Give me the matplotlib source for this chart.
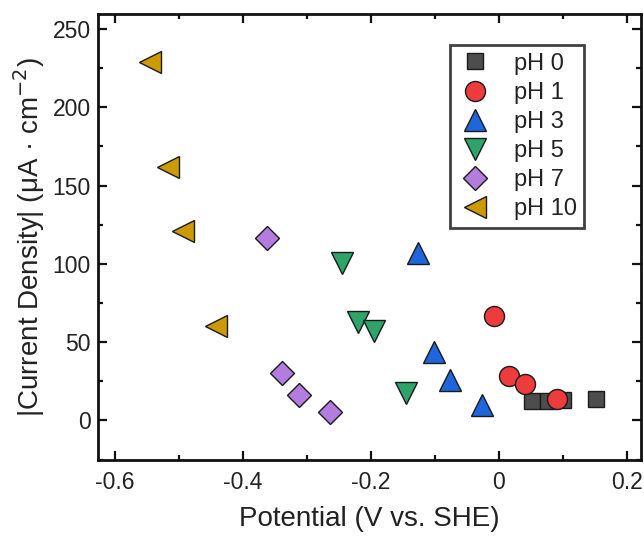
import matplotlib.pyplot as plt
from matplotlib.ticker import MultipleLocator

plt.rcParams['font.family'] = ['Liberation Sans', 'DejaVu Sans']

# -----------------
# Data (read off)
# -----------------
ph0_x = [0.052, 0.076, 0.100, 0.151]
ph0_y = [12.4, 12.4, 13.0, 13.8]

ph1_x = [-0.008, 0.016, 0.041, 0.091]
ph1_y = [66.6, 28.4, 23.0, 14.0]

ph3_x = [-0.127, -0.102, -0.077, -0.027]
ph3_y = [107.0, 43.7, 26.0, 10.0]

ph5_x = [-0.245, -0.221, -0.196, -0.145]
ph5_y = [100.4, 63.0, 57.0, 17.5]

ph7_x = [-0.363, -0.339, -0.313, -0.264]
ph7_y = [116.8, 30.6, 16.0, 5.5]

ph10_x = [-0.545, -0.518, -0.494, -0.442]
ph10_y = [229.0, 162.0, 120.7, 60.0]

labels = ["pH 0", "pH 1", "pH 3", "pH 5", "pH 7", "pH 10"]
colors = ["#4d4d4d", "#ee3b3b", "#1f66dd", "#2ea36a", "#b57ce0", "#cc9a06"]
markers = ["s", "o", "^", "v", "D", "<"]
sizes = [11.5, 14.4, 16.5, 16.5, 12.2, 16.5]

series = [
    (ph0_x, ph0_y),
    (ph1_x, ph1_y),
    (ph3_x, ph3_y),
    (ph5_x, ph5_y),
    (ph7_x, ph7_y),
    (ph10_x, ph10_y),
]

# -----------------
# Plot
# -----------------
fig = plt.figure(figsize=(6.44, 5.36), dpi=100)
ax = fig.add_axes([0.152, 0.142, 0.844, 0.831])

text_col = "#222222"

# pH 10 first so the right-hand points sit on top, like the original
order = [5, 4, 3, 2, 0, 1]
handles = {}
for i in order:
    xs, ys = series[i]
    h, = ax.plot(xs, ys, linestyle="none", marker=markers[i],
                 markersize=sizes[i], markerfacecolor=colors[i],
                 markeredgecolor="#1a1a1a", markeredgewidth=1.0,
                 label=labels[i])
    handles[i] = h

ax.set_xlim(-0.627, 0.2227)
ax.set_ylim(-25.2, 259.3)

ax.xaxis.set_minor_locator(MultipleLocator(0.1))
ax.yaxis.set_major_locator(MultipleLocator(50))
ax.yaxis.set_minor_locator(MultipleLocator(25))

ax.set_xticks([-0.6, -0.4, -0.2, 0.0, 0.2])
ax.set_xticklabels(["-0.6", "-0.4", "-0.2", "0", "0.2"])

ax.tick_params(which="both", direction="in", top=True, right=True,
               width=1.6, colors="#111111", labelcolor=text_col,
               labelsize=16.5)
ax.tick_params(which="major", length=6.5)
ax.tick_params(which="minor", length=3.5)
ax.tick_params(axis="x", which="major", pad=8)
ax.tick_params(axis="y", which="major", pad=5)

for s in ax.spines.values():
    s.set_linewidth(2.0)
    s.set_color("#111111")

ax.set_xlabel("Potential (V vs. SHE)", fontsize=20, color=text_col,
              labelpad=9)
ax.set_ylabel("|Current Density| (\u03bcA \u00b7 cm$^{-2}$)", fontsize=20,
              color=text_col, labelpad=4)

leg = ax.legend([handles[i] for i in range(6)], labels,
                loc="upper left", bbox_to_anchor=(0.647, 0.931),
                fontsize=17, frameon=True, fancybox=False,
                handletextpad=0.85, labelspacing=0.3, borderpad=0.32,
                borderaxespad=0, handlelength=1.55, labelcolor=text_col)
leg.get_frame().set_edgecolor("#111111")
leg.get_frame().set_linewidth(2.0)

fig.savefig("out.png", dpi=100)
